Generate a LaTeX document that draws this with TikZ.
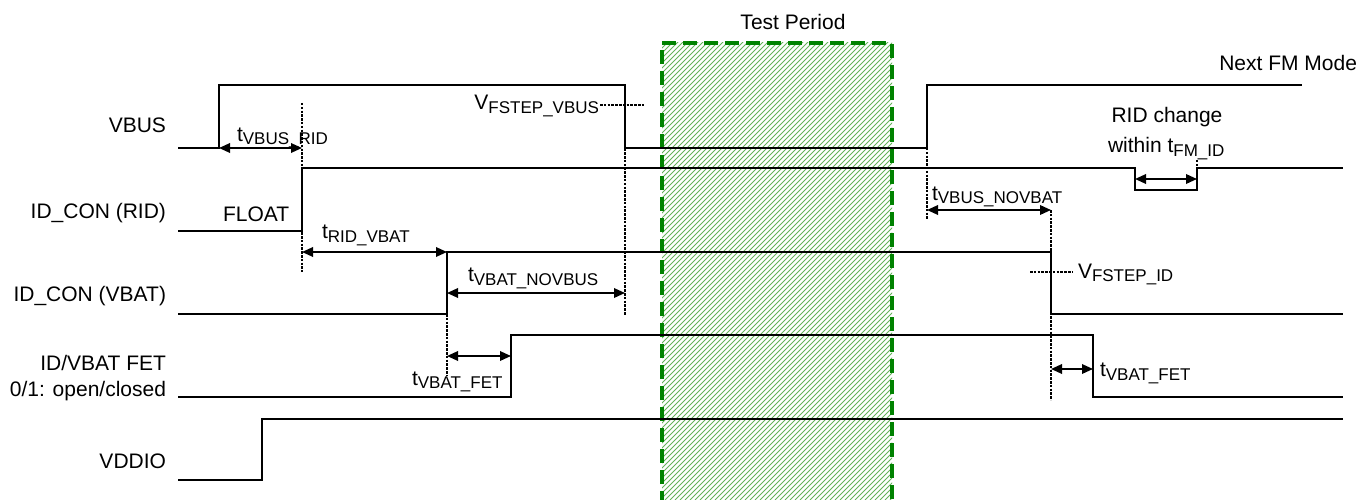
\documentclass[tikz,border=0pt]{standalone}
\usepackage{fontspec}
\setmainfont{Liberation Sans}
\usetikzlibrary{arrows.meta}
\definecolor{tpgreen}{RGB}{0,130,0}
\definecolor{hatchgreen}{RGB}{100,178,90}
\newcommand{\tsub}[2]{#1\raisebox{-3.5pt}{\fontsize{17}{17}\selectfont #2}}
\begin{document}
\begin{tikzpicture}[x=1pt,y=-1pt,
  every node/.style={inner sep=0pt, outer sep=0pt, font=\fontsize{21}{25}\selectfont},
  sig/.style={line width=1.8pt, line join=miter},
  dotline/.style={line width=2.4pt, dash pattern=on 2.5pt off 1.3pt},
  span/.style={line width=1.8pt, {Triangle[length=11pt,width=9.5pt]}-{Triangle[length=11pt,width=9.5pt]}},
  lbl/.style={anchor=base east}]
\useasboundingbox (0,0) rectangle (1360,500);

% test period hatch
\begin{scope}
  \clip (662,43) rectangle (892,500);
  \foreach \i in {200,205,...,895} {
    \draw[hatchgreen, line width=1pt] (\i,500) -- ++(460,-460);
  }
\end{scope}
\draw[tpgreen, line width=3.2pt, dash pattern=on 14pt off 7pt] (662,505) -- (662,43) -- (892,43) -- (892,505);
\node[anchor=base] (tp) at (793,30) {Test Period};

% signal labels
\node[lbl] (lvbus) at (166,133) {VBUS};
\node[lbl] (lrid) at (166,218) {ID\_CON (RID)};
\node[lbl] (lvbat) at (166,301) {ID\_CON (VBAT)};
\node[lbl] (lfet1) at (166,370.5) {ID/VBAT FET};
\node[lbl] (lfet2) at (166,396.5) {0/1: open/closed};
\node[lbl] (lvddio) at (166,468) {VDDIO};

% key coordinates
\coordinate (vbusUp) at (219,148);
\coordinate (ridUp) at (302,168);
\coordinate (vbatUp) at (447,252);
\coordinate (fetUp) at (511,335);
\coordinate (vbusDn) at (625,148);
\coordinate (vbusUp2) at (927,148);
\coordinate (vbatDn) at (1051,252);
\coordinate (fetDn) at (1093,335);
\coordinate (ridA) at (1135,168);
\coordinate (ridB) at (1197,168);

% signals
\draw[sig] (178,148) -- (vbusUp) -- (219,85) -- (625,85) -- (vbusDn) -- (vbusUp2) -- (927,85) -- (1302,85);
\draw[sig] (178,231) -- (302,231) -- (ridUp) -- (ridA) -- (1135,190) -- (1197,190) -- (ridB) -- (1343,168);
\draw[sig] (178,314) -- (447,314) -- (vbatUp) -- (vbatDn) -- (1051,314) -- (1343,314);
\draw[sig] (178,397) -- (511,397) -- (fetUp) -- (fetDn) -- (1093,397) -- (1343,397);
\draw[sig] (178,480) -- (262,480) -- (262,419) -- (1343,419);

% dotted markers
\coordinate (d1t) at (302,103); \coordinate (d1b) at (302,272);
\coordinate (d2t) at (625,103); \coordinate (d2b) at (625,315);
\coordinate (d3t) at (447,314); \coordinate (d3b) at (447,375);
\coordinate (d4t) at (927,148); \coordinate (d4b) at (927,220);
\coordinate (d5t) at (1051,210); \coordinate (d5b) at (1051,400);
\coordinate (d6t) at (1197,160);
\draw[dotline] (d1t) -- (d1b);
\draw[dotline] (d2t) -- (d2b);
\draw[dotline] (d3t) -- (d3b);
\draw[dotline] (d4t) -- (d4b);
\draw[dotline] (d5t) -- (d5b);
\draw[dotline] (d6t) -- (ridB);
\coordinate (h1a) at (600,105); \coordinate (h1b) at (645,105);
\coordinate (h2a) at (1030,272); \coordinate (h2b) at (1073,272);
\draw[dotline] (h1a) -- (h1b);
\draw[dotline] (h2a) -- (h2b);

% spans
\draw[span] (vbusUp) -- (302,148);
\draw[span] (302,252) -- (vbatUp);
\draw[span] (447,293) -- (625,293);
\draw[span] (447,356) -- (511,356);
\draw[span] (927,210) -- (d5t);
\draw[span] (1051,369) -- (1093,369);
\draw[span] (1135,179) -- (1197,179);

% span labels
\node[anchor=base west] (t1) at (237,141.5) {\tsub{t}{VBUS\_RID}};
\node[anchor=base west] (t2) at (322,238.5) {\tsub{t}{RID\_VBAT}};
\node[anchor=base east] (v1) at (599,110) {\tsub{V}{FSTEP\_VBUS}};
\node[anchor=base west] (t3) at (468,281.5) {\tsub{t}{VBAT\_NOVBUS}};
\node[anchor=base west] (t4) at (412,385) {\tsub{t}{VBAT\_FET}};
\node[anchor=base west] (t5) at (932,200) {\tsub{t}{VBUS\_NOVBAT}};
\node[anchor=base west] (v2) at (1078,278) {\tsub{V}{FSTEP\_ID}};
\node[anchor=base west] (t6) at (1100,376.5) {\tsub{t}{VBAT\_FET}};
\node[anchor=base west] (fl) at (223,221) {FLOAT};
\node[anchor=base] (rc) at (1167,123) {RID change};
\node[anchor=base west] (wt) at (1108,153) {within \tsub{t}{FM\_ID}};
\node[anchor=base east] (nfm) at (1357,71) {Next FM Mode};
\end{tikzpicture}
\end{document}
